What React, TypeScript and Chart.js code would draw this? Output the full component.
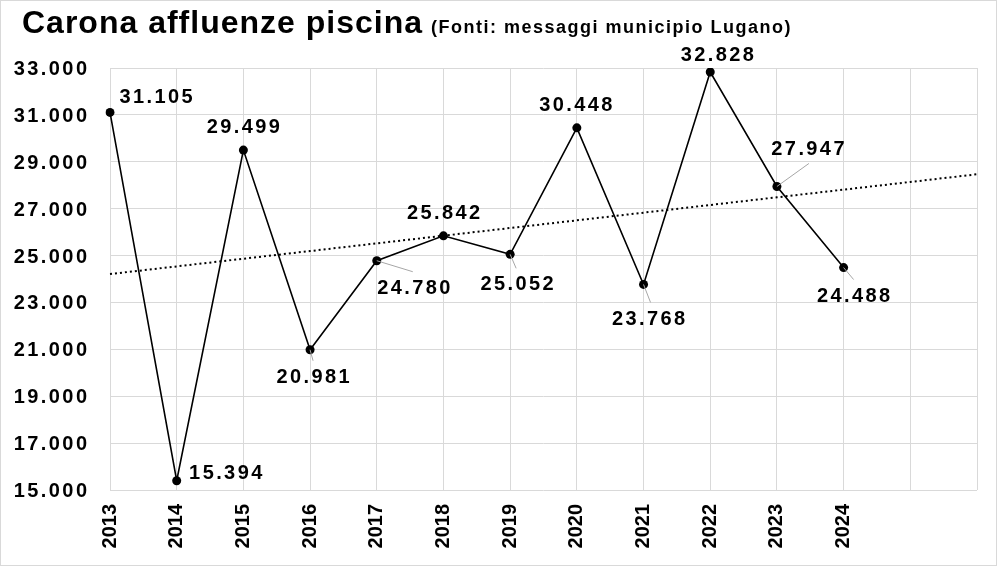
import React, { useEffect, useRef } from 'react';
import { Chart, registerables } from 'chart.js';

Chart.register(...registerables);

const YEARS = ['2013', '2014', '2015', '2016', '2017', '2018', '2019', '2020', '2021', '2022', '2023', '2024'];
const EMPTY_SLOTS = ['', ''];
const VISITORS = [31105, 15394, 29499, 20981, 24780, 25842, 25052, 30448, 23768, 32828, 27947, 24488];
const Y_TICKS = [15000, 17000, 19000, 21000, 23000, 25000, 27000, 29000, 31000, 33000];
const TITLE = 'Carona affluenze piscina';
const SUBTITLE = '(Fonti: messaggi municipio Lugano)';

// label placement relative to each point: centre offset and optional leader-line end
const LABEL_PLACEMENT: { dx: number; dy: number; lead?: [number, number] }[] = [
  { dx: 46, dy: -16 },
  { dx: 49, dy: -9 },
  { dx: 0, dy: -24 },
  { dx: 3, dy: 26, lead: [3, 11] },
  { dx: 37, dy: 26, lead: [36, 11] },
  { dx: 0, dy: -24 },
  { dx: 7, dy: 29, lead: [6, 14] },
  { dx: -1, dy: -24 },
  { dx: 5, dy: 34, lead: [7, 18] },
  { dx: 7, dy: -18 },
  { dx: 31, dy: -38, lead: [32, -23] },
  { dx: 10, dy: 27, lead: [10, 12] },
];

const FONT = "'Liberation Sans', Arial, sans-serif";
const NUM_SPACING = 2.4;

function fmt(v: number): string {
  return String(Math.round(v)).replace(/\B(?=(\d{3})+(?!\d))/g, '.');
}

function linearTrend(values: number[], count: number): number[] {
  const n = values.length;
  let sx = 0, sy = 0, sxy = 0, sxx = 0;
  values.forEach((y, x) => { sx += x; sy += y; sxy += x * y; sxx += x * x; });
  const slope = (n * sxy - sx * sy) / (n * sxx - sx * sx);
  const icpt = (sy - slope * sx) / n;
  const out: number[] = [];
  for (let i = 0; i < count; i++) out.push(icpt + slope * i);
  return out;
}

function drawSpaced(ctx: CanvasRenderingContext2D, text: string, x: number, y: number, align: 'left' | 'center' | 'right', spacing: number) {
  (ctx as any).letterSpacing = spacing + 'px';
  ctx.textAlign = 'left';
  const w = ctx.measureText(text).width - spacing;
  let sx = x;
  if (align === 'center') sx = x - w / 2;
  else if (align === 'right') sx = x - w;
  ctx.fillText(text, sx, y);
  (ctx as any).letterSpacing = '0px';
  return w;
}

const decorPlugin = {
  id: 'decor',
  afterDraw(chart: any) {
    const ctx: CanvasRenderingContext2D = chart.ctx;
    const yScale = chart.scales.y;
    const meta = chart.getDatasetMeta(0);
    ctx.save();
    // outer border
    ctx.strokeStyle = '#d9d9d9';
    ctx.lineWidth = 1;
    ctx.strokeRect(0.5, 0.5, 996, 565);

    // title
    ctx.fillStyle = '#000';
    ctx.textBaseline = 'alphabetic';
    ctx.font = `bold 32px ${FONT}`;
    const tw = drawSpaced(ctx, TITLE, 22, 33, 'left', 1);
    ctx.font = `bold 18px ${FONT}`;
    drawSpaced(ctx, SUBTITLE, 22 + tw + 9, 33, 'left', 1.5);

    // y tick labels
    ctx.font = `bold 20px ${FONT}`;
    Y_TICKS.forEach((t) => {
      const y = yScale.getPixelForValue(t);
      drawSpaced(ctx, fmt(t), 87, y + 7, 'right', NUM_SPACING);
    });

    // data labels with leader lines
    meta.data.forEach((pt: any, i: number) => {
      const p = LABEL_PLACEMENT[i];
      if (!p) return;
      if (p.lead) {
        ctx.strokeStyle = '#a6a6a6';
        ctx.lineWidth = 1;
        ctx.beginPath();
        ctx.moveTo(pt.x, pt.y);
        ctx.lineTo(pt.x + p.lead[0], pt.y + p.lead[1]);
        ctx.stroke();
      }
      ctx.fillStyle = '#000';
      drawSpaced(ctx, fmt(VISITORS[i]), pt.x + p.dx, pt.y + p.dy + 7, 'center', NUM_SPACING);
    });
    ctx.restore();
  },
};

export default function App() {
  const ref = useRef<HTMLCanvasElement | null>(null);
  useEffect(() => {
    if (!ref.current) return;
    const labels = [...YEARS, ...EMPTY_SLOTS];
    const trend = linearTrend(VISITORS, labels.length);
    const chart = new Chart(ref.current, {
      type: 'line',
      data: {
        labels,
        datasets: [
          {
            data: VISITORS,
            borderColor: '#000',
            backgroundColor: '#000',
            borderWidth: 1.6,
            pointRadius: 4.5,
            pointBackgroundColor: '#000',
            pointBorderColor: '#000',
            pointBorderWidth: 0,
            tension: 0,
            order: 1,
          },
          {
            data: trend,
            borderColor: '#000',
            borderWidth: 2,
            borderDash: [2, 3],
            pointRadius: 0,
            tension: 0,
            order: 2,
          },
        ],
      },
      options: {
        responsive: false,
        animation: false,
        devicePixelRatio: 1,
        layout: { padding: { left: 0, top: 68, right: 22, bottom: 0 } },
        plugins: {
          legend: { display: false },
          title: { display: false },
          tooltip: { enabled: false },
        },
        scales: {
          x: {
            type: 'category',
            offset: false,
            border: { display: false },
            grid: { color: '#d9d9d9', lineWidth: 1, drawTicks: false },
            ticks: {
              color: '#000',
              font: { family: FONT, size: 20, weight: 'bold' },
              minRotation: 90,
              maxRotation: 90,
              autoSkip: false,
              padding: 14,
            },
            afterFit: (s: any) => { s.height = 77; s.paddingLeft = 0; s.paddingRight = 0; },
          },
          y: {
            min: 15000,
            max: 33000,
            border: { display: false },
            grid: { color: '#d9d9d9', lineWidth: 1, drawTicks: false },
            ticks: { stepSize: 2000, display: false },
            afterFit: (s: any) => { s.width = 110; s.paddingTop = 0; s.paddingBottom = 0; },
          },
        },
      },
      plugins: [decorPlugin],
    });
    return () => chart.destroy();
  }, []);
  return (
    <div style={{ position: 'absolute', left: 0, top: 0, width: 999, height: 567, background: '#fff' }}>
      <canvas ref={ref} width={999} height={567} />
    </div>
  );
}
